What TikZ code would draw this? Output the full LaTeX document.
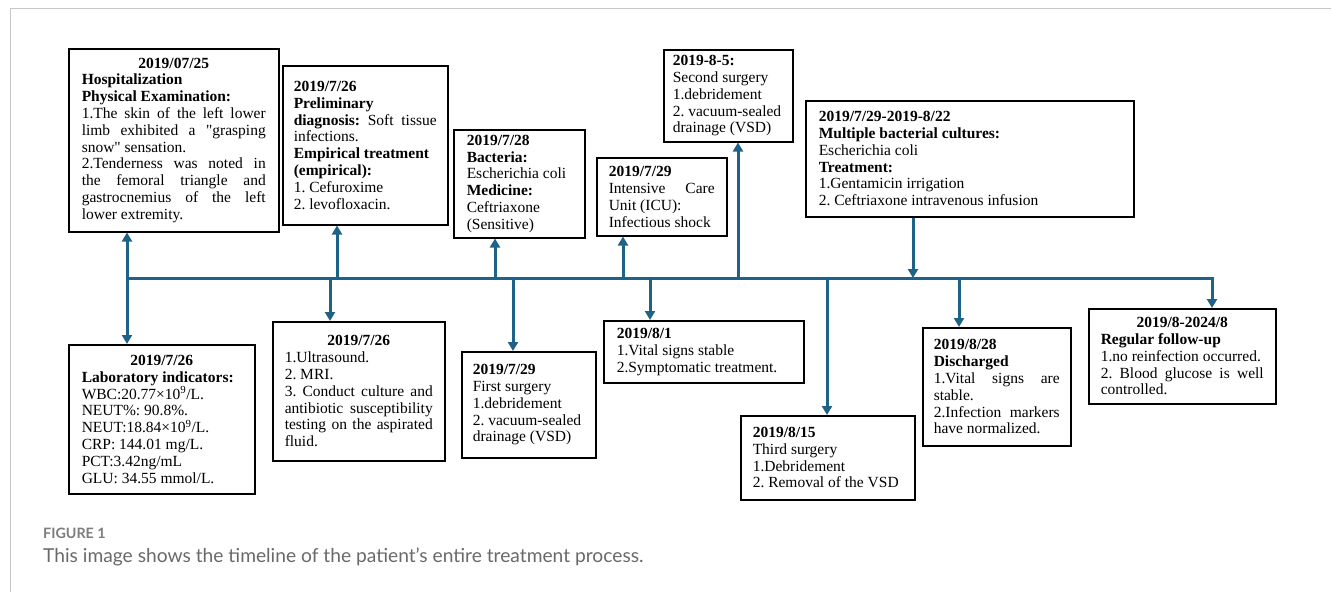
\documentclass[tikz,border=0pt]{standalone}
\usepackage{fontspec}
\setmainfont{Liberation Serif}
\newfontfamily\capfont{Lato}
\usetikzlibrary{arrows.meta,calc}
\definecolor{tl}{RGB}{31,98,135}
\definecolor{capgray}{RGB}{125,125,125}
\definecolor{capdark}{RGB}{105,105,105}
\newcommand{\jl}[1]{\leavevmode\hbox to\hsize{\spaceskip=0pt\xspaceskip=0pt #1}}
\newcommand{\cl}[1]{\leavevmode\hbox to\hsize{\hfil#1\hfil}}
\tikzset{
  box/.style={draw=black, line width=1.5pt, fill=white, anchor=north west,
    inner ysep=0pt, align=justify, font=\fontsize{15.5}{16.8}\selectfont,
    execute at begin node={\spaceskip=0pt\xspaceskip=0pt}},
  arr/.style={draw=tl, line width=3pt, -{Triangle[width=10pt,length=9pt]}},
  frame/.style={draw=black!22, line width=1pt}
}
\begin{document}
\frenchspacing
\begin{tikzpicture}[x=1pt,y=-1pt]
\useasboundingbox (0,0) rectangle (1331,592);
\draw[frame] (10,592) -- (10,8.5) -- (1331,8.5);

% upper boxes
\node[box, text width=184pt, inner xsep=13pt, minimum height=183pt] (b1) at (68,48) {%
\cl{\textbf{2019/07/25}}\\
\textbf{Hospitalization}\\
\textbf{Physical Examination:}\\
\jl{1.The skin of the left lower}\\
\jl{limb exhibited a \textquotedbl grasping}\\
snow\textquotedbl{} sensation.\\
\jl{2.Tenderness was noted in}\\
\jl{the femoral triangle and}\\
\jl{gastrocnemius of the left}\\
lower extremity.};

\node[box, text width=143pt, inner xsep=11pt, minimum height=159pt] (b2) at (282,65) {%
\textbf{2019/7/26}\\
\textbf{Preliminary}\\
\jl{\textbf{diagnosis:} Soft tissue}\\
infections.\\
\textbf{Empirical treatment}\\
\textbf{(empirical):}\\
1. Cefuroxime\\
2. levofloxacin.};

\node[box, text width=105pt, inner xsep=13pt, minimum height=108pt] (b3) at (453,129) {%
\textbf{2019/7/28}\\
\textbf{Bacteria:}\\
Escherichia coli\\
\textbf{Medicine:}\\
Ceftriaxone\\
(Sensitive)};

\node[box, text width=106pt, inner xsep=12pt, minimum height=78pt] (b4) at (596,157) {%
\textbf{2019/7/29}\\
\jl{Intensive Care}\\
Unit (ICU):\\
Infectious shock};

\node[box, text width=111pt, inner xsep=9pt, minimum height=92pt] (b5) at (663,49) {%
\textbf{2019-8-5:}\\
Second surgery\\
1.debridement\\
2. vacuum-sealed\\
drainage (VSD)};

\node[box, text width=302pt, inner xsep=13pt, minimum height=116pt] (b6) at (805,100) {%
\textbf{2019/7/29-2019-8/22}\\
\textbf{Multiple bacterial cultures:}\\
Escherichia coli\\
\textbf{Treatment:}\\
1.Gentamicin irrigation\\
2. Ceftriaxone intravenous infusion};

% lower boxes
\node[box, text width=160pt, inner xsep=13pt, minimum height=149pt] (b7) at (68,344) {%
\cl{\textbf{2019/7/26}}\\
\textbf{Laboratory indicators:}\\
WBC:20.77×10\textsuperscript{9}/L.\\
NEUT\%: 90.8\%.\\
NEUT:18.84×10\textsuperscript{9}/L.\\
CRP: 144.01 mg/L.\\
PCT:3.42ng/mL\\
GLU: 34.55 mmol/L.};

\node[box, text width=148pt, inner xsep=12pt, minimum height=139pt] (b8) at (272,321) {%
\cl{\textbf{2019/7/26}}\\
1.Ultrasound.\\
2. MRI.\\
\jl{3. Conduct culture and}\\
\jl{antibiotic susceptibility}\\
\jl{testing on the aspirated}\\
fluid.};

\node[box, text width=112pt, inner xsep=11pt, minimum height=106pt] (b9) at (461,351) {%
\textbf{2019/7/29}\\
First surgery\\
1.debridement\\
2. vacuum-sealed\\
drainage (VSD)};

\node[box, text width=174pt, inner xsep=13pt, minimum height=62pt] (b10) at (603,320) {%
\textbf{2019/8/1}\\
1.Vital signs stable\\
2.Symptomatic treatment.};

\node[box, text width=150pt, inner xsep=12pt, minimum height=84pt] (b11) at (740,415) {%
\textbf{2019/8/15}\\
Third surgery\\
1.Debridement\\
2. Removal of the VSD};

\node[box, text width=126pt, inner xsep=11pt, minimum height=118pt] (b12) at (922,327) {%
\textbf{2019/8/28}\\
\textbf{Discharged}\\
\jl{1.Vital signs are}\\
stable.\\
\jl{2.Infection markers}\\
have normalized.};

\node[box, text width=163pt, inner xsep=12pt, minimum height=95pt] (b13) at (1088,308) {%
\cl{\textbf{2019/8-2024/8}}\\
\textbf{Regular follow-up}\\
1.no reinfection occurred.\\
\jl{2. Blood glucose is well}\\
controlled.};

% timeline
\coordinate (tL) at (127,278);
\coordinate (tR) at (1212,278);
\coordinate (p2) at (337,278);
\coordinate (p3) at (495,278);
\coordinate (p4) at (623,278);
\coordinate (p5) at (738,278);
\coordinate (p6) at (913,278);
\coordinate (p8) at (330,278);
\coordinate (p9) at (513,278);
\coordinate (p10) at (650,278);
\coordinate (p11) at (827,278);
\coordinate (p12) at (959,278);

\draw[arr] (tL) -- (tR) -- (tR |- b13.north);
\draw[arr] (tL) -- (tL |- b1.south);
\draw[arr] (tL) -- (tL |- b7.north);
\draw[arr] (p2) -- (p2 |- b2.south);
\draw[arr] (p3) -- (p3 |- b3.south);
\draw[arr] (p4) -- (p4 |- b4.south);
\draw[arr] (p5) -- (p5 |- b5.south);
\draw[arr] (p6 |- b6.south) -- (p6);
\draw[arr] (p8) -- (p8 |- b8.north);
\draw[arr] (p9) -- (p9 |- b9.north);
\draw[arr] (p10) -- (p10 |- b10.north);
\draw[arr] (p11) -- (p11 |- b11.north);
\draw[arr] (p12) -- (p12 |- b12.north);

% caption
\node[anchor=base west, inner sep=0pt, text=capgray, font=\capfont\bfseries\fontsize{14.3}{17}\selectfont] (fig) at (43,538) {FIGURE 1};
\node[anchor=base west, inner sep=0pt, text=capdark, font=\capfont\fontsize{19.2}{23}\selectfont] (cap) at (43,562) {This image shows the timeline of the patient’s entire treatment process.};
\end{tikzpicture}
\end{document}
